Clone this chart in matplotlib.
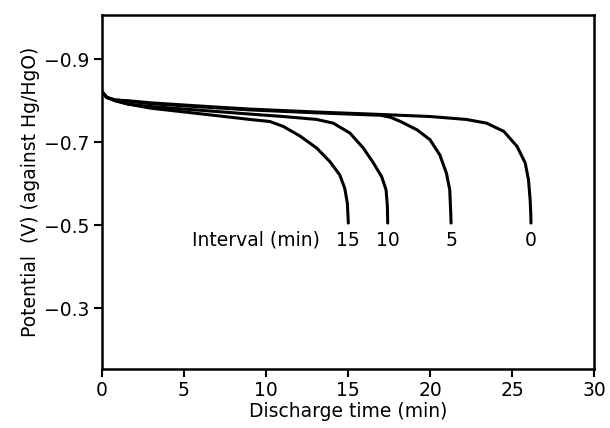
import matplotlib
matplotlib.use("Agg")
import matplotlib.pyplot as plt

# Discharge curves (time in min, potential in V vs Hg/HgO)
t_0 = [0, 0.3, 0.8, 1.6, 3.0, 5.7, 9.0, 13.0, 17.0, 20.0, 22.2, 23.45, 24.5, 25.3, 25.8, 26.0, 26.1, 26.14, 26.15]
v_0 = [-0.822, -0.808, -0.802, -0.800, -0.795, -0.788, -0.780, -0.773, -0.767, -0.762, -0.755, -0.746, -0.726, -0.690, -0.650, -0.609, -0.561, -0.525, -0.505]

t_5 = [0, 0.3, 0.8, 1.6, 3.0, 5.7, 9.0, 13.0, 17.0, 17.6, 18.2, 19.2, 20.0, 20.6, 21.0, 21.2, 21.26, 21.28]
v_5 = [-0.822, -0.808, -0.802, -0.799, -0.793, -0.786, -0.778, -0.771, -0.765, -0.760, -0.750, -0.730, -0.706, -0.669, -0.625, -0.585, -0.530, -0.505]

t_10 = [0, 0.3, 0.8, 1.6, 3.0, 5.7, 9.0, 11.06, 13.09, 14.1, 15.12, 15.93, 16.5, 17.05, 17.32, 17.4, 17.42]
v_10 = [-0.822, -0.808, -0.801, -0.792, -0.786, -0.778, -0.768, -0.762, -0.755, -0.746, -0.722, -0.686, -0.653, -0.617, -0.585, -0.545, -0.505]

t_15 = [0, 0.3, 0.8, 1.6, 3.0, 5.7, 9.0, 10.24, 11.06, 12.07, 13.09, 13.9, 14.5, 14.8, 14.96, 15.02]
v_15 = [-0.822, -0.808, -0.800, -0.792, -0.782, -0.770, -0.755, -0.750, -0.738, -0.715, -0.686, -0.653, -0.621, -0.589, -0.553, -0.505]

curve_labels = ["0", "5", "10", "15"]
x_ticks = [0, 5, 10, 15, 20, 25, 30]
y_ticks = [-0.9, -0.7, -0.5, -0.3]
y_ticklabels = ["\u22120.9", "\u22120.7", "\u22120.5", "\u22120.3"]

plt.rcParams['font.family'] = ['DejaVu Sans']
fig = plt.figure(figsize=(6.10, 4.28), dpi=100)
ax = fig.add_axes([0.167, 0.138, 0.807, 0.827])

for t, v in [(t_0, v_0), (t_5, v_5), (t_10, v_10), (t_15, v_15)]:
    ax.plot(t, v, color='black', lw=2.2, solid_joinstyle='round', solid_capstyle='round')

for t, lab in zip([t_0, t_5, t_10, t_15], curve_labels):
    ax.text(t[-1], -0.464, lab, ha='center', va='center', fontsize=13.5)
ax.text(9.4, -0.464, "Interval (min)", ha='center', va='center', fontsize=13.5)

ax.set_xlim(0, 30)
ax.set_ylim(-0.153, -1.007)
ax.set_xticks(x_ticks)
ax.set_yticks(y_ticks)
ax.set_yticklabels(y_ticklabels)
ax.tick_params(direction='out', length=6, width=1.5, labelsize=13.5, pad=3)
for s in ax.spines.values():
    s.set_linewidth(1.8)
ax.set_xlabel("Discharge time (min)", fontsize=13.5, labelpad=1)
ax.set_ylabel("Potential  (V) (against Hg/HgO)", fontsize=13.5, labelpad=3)

fig.savefig("out.png", dpi=100)
